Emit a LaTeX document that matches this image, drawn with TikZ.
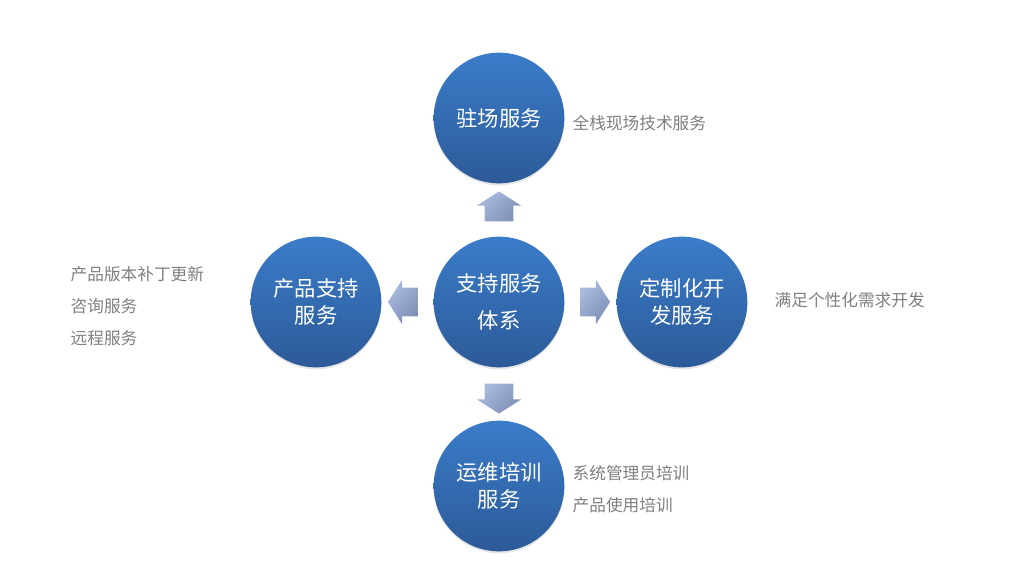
\documentclass[tikz,border=0pt]{standalone}
\usepackage{fontspec}
\setmainfont{Noto Sans CJK SC}
\usetikzlibrary{shapes.arrows,shadows}

\definecolor{ballTop}{HTML}{3B7CC9}
\definecolor{ballBot}{HTML}{2C5A98}
\definecolor{arrLight}{HTML}{AABBE0}
\definecolor{arrDark}{HTML}{7F8FB5}
\definecolor{noteGrey}{HTML}{7F7F7F}

\tikzset{
	ball/.style={circle, minimum size=98pt, inner sep=0pt, shade, top color=ballTop, bottom color=ballBot,
		drop shadow={opacity=0.2, shadow xshift=0pt, shadow yshift=-1.5pt},
		text=white, align=center, font=\fontsize{16}{20}\selectfont},
	blockarrow/.style={single arrow, draw=none, inner xsep=0pt, inner ysep=10.5pt,
		single arrow head extend=6pt, single arrow tip angle=115, minimum height=22.5pt,
		shade, top color=arrLight, bottom color=arrDark, shading angle=45},
	note/.style={text=noteGrey, align=left, anchor=west, font=\fontsize{12.5}{24}\selectfont}
}

\begin{document}
\begin{tikzpicture}[x=0.75pt,y=-0.75pt]
	\useasboundingbox (0,0) rectangle (1020,579);
	% circles
	\node[ball] (hub) at (499,302) {支持服务\\[7.5pt]体系};
	\node[ball] (onsite) at (499,118) {驻场服务};
	\node[ball] (prod) at (316,302) {产品支持\\服务};
	\node[ball] (dev) at (682,302) {定制化开\\发服务};
	\node[ball] (ops) at (499,486) {运维培训\\服务};
	% arrows
	\node[blockarrow, rotate=90] (aup) at (499,211) {};
	\node[blockarrow, rotate=180] (aleft) at (407.5,302) {};
	\node[blockarrow] (aright) at (590.5,302) {};
	\node[blockarrow, rotate=-90] (adown) at (499,394) {};
	% notes
	\node[note] (onsiteNote) at (568,123) {全栈现场技术服务};
	\node[note] (devNote) at (770,300) {满足个性化需求开发};
	\node[note] (prodNote) at (66,306) {产品版本补丁更新\\咨询服务\\远程服务};
	\node[note] (opsNote) at (568,489) {系统管理员培训\\产品使用培训};
\end{tikzpicture}
\end{document}
